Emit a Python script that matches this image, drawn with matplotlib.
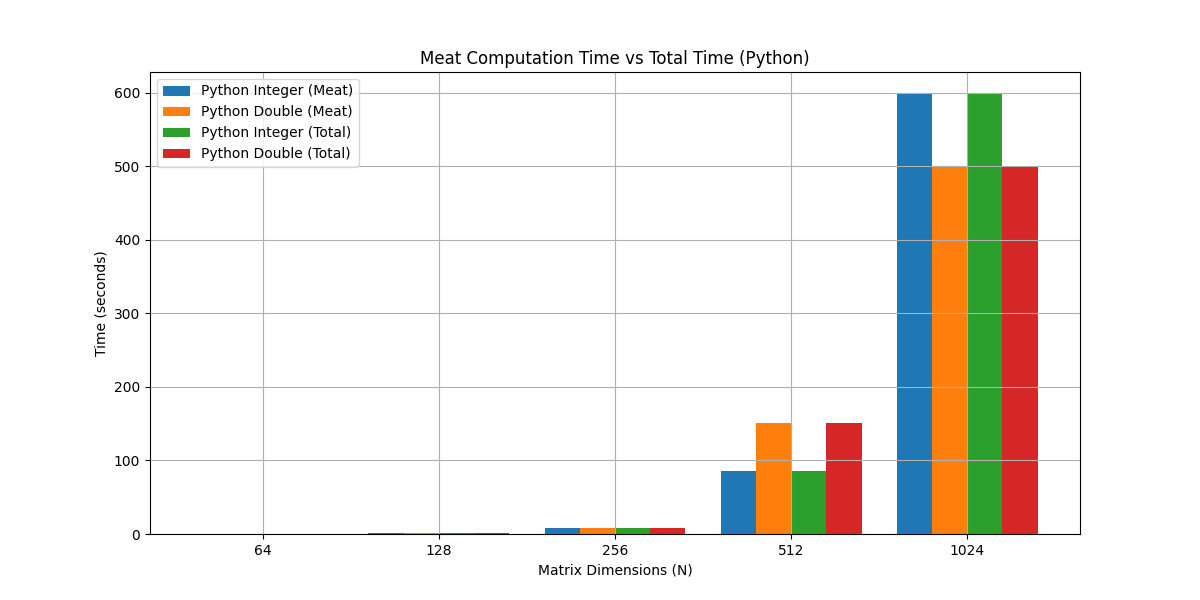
import numpy as np
import matplotlib.pyplot as plt

sizes = ["64", "128", "256", "512", "1024"]
int_meat = [0.1, 1.0, 8.2, 86.0, 598.5]
dbl_meat = [0.1, 1.0, 8.2, 151.0, 499.0]
int_total = [0.1, 1.0, 8.2, 86.0, 598.5]
dbl_total = [0.1, 1.0, 8.2, 151.0, 499.0]

x = np.arange(len(sizes))
w = 0.2

fig, ax = plt.subplots(figsize=(12, 6))
ax.bar(x - 1.5 * w, int_meat, w, label="Python Integer (Meat)")
ax.bar(x - 0.5 * w, dbl_meat, w, label="Python Double (Meat)")
ax.bar(x + 0.5 * w, int_total, w, label="Python Integer (Total)")
ax.bar(x + 1.5 * w, dbl_total, w, label="Python Double (Total)")

ax.set_xticks(x)
ax.set_xticklabels(sizes)
ax.set_xlabel("Matrix Dimensions (N)")
ax.set_ylabel("Time (seconds)")
ax.set_title("Meat Computation Time vs Total Time (Python)")
ax.legend(loc="upper left")
ax.grid(True)

fig.savefig("out.png", dpi=100)
